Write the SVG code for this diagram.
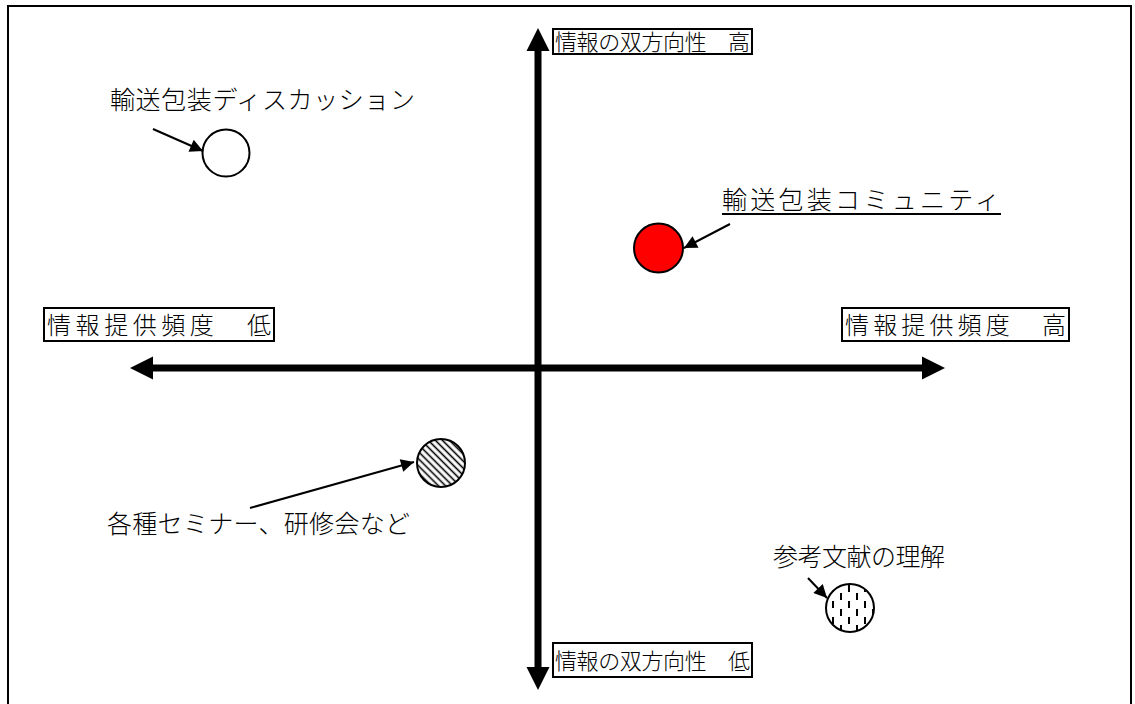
<svg xmlns="http://www.w3.org/2000/svg" width="1135" height="704" viewBox="0 0 1135 704">
<style>
text{font-family:"Noto Sans CJK JP","Noto Sans CJK SC",sans-serif;font-size:25px;font-weight:300;fill:#000}
.vt{font-size:22px}
.ht{font-size:24px}
.box{fill:#fff;stroke:#000;stroke-width:2}
.axis{stroke:#000;stroke-width:7;fill:none}
.ptr{stroke:#000;stroke-width:2;fill:none}
.node{stroke:#000;stroke-width:2}
</style>
<defs>
<marker id="big" viewBox="0 0 10 10" refX="0" refY="5" markerUnits="userSpaceOnUse" markerWidth="23" markerHeight="25" orient="auto"><path d="M0,0 L10,5 L0,10 Z" fill="#000"/></marker>
<marker id="small" viewBox="0 0 10 10" refX="10" refY="5" markerUnits="userSpaceOnUse" markerWidth="18" markerHeight="13" orient="auto"><path d="M0,0 L10,5 L0,10 Z" fill="#000"/></marker>
<pattern id="hatch" width="5" height="5" patternUnits="userSpaceOnUse" patternTransform="rotate(-45)"><line x1="1.5" y1="0" x2="1.5" y2="5" stroke="#000" stroke-width="1.6"/></pattern>
<pattern id="dash" width="16" height="16" patternUnits="userSpaceOnUse" x="829" y="584"><line x1="4" y1="1" x2="4" y2="8" stroke="#000" stroke-width="2"/><line x1="12" y1="9" x2="12" y2="16" stroke="#000" stroke-width="2"/></pattern>
</defs>
<rect x="8" y="6" width="1123" height="720" fill="#fff" stroke="#000" stroke-width="2"/>
<g id="connectors">
<line class="axis" x1="538" y1="368" x2="538" y2="51" marker-end="url(#big)"/>
<line class="axis" x1="538" y1="368" x2="538" y2="667" marker-end="url(#big)"/>
<line class="axis" x1="538" y1="368" x2="153" y2="368" marker-end="url(#big)"/>
<line class="axis" x1="538" y1="368" x2="922" y2="368" marker-end="url(#big)"/>
<line class="ptr" x1="153" y1="129" x2="203" y2="151" marker-end="url(#small)"/>
<line class="ptr" x1="730" y1="224" x2="684" y2="248" marker-end="url(#small)"/>
<line class="ptr" x1="250" y1="508" x2="414" y2="462" marker-end="url(#small)"/>
<line class="ptr" x1="808" y1="578" x2="827" y2="598" marker-end="url(#small)"/>
</g>
<g id="label-top"><rect class="box" x="553" y="29" width="199" height="25"/><text class="vt" x="555" y="50" textLength="195" lengthAdjust="spacing">情報の双方向性　高</text></g>
<g id="label-bottom"><rect class="box" x="553" y="643" width="199" height="34"/><text class="vt" x="555" y="669" textLength="195" lengthAdjust="spacing">情報の双方向性　低</text></g>
<g id="label-left"><rect class="box" x="44" y="308" width="230" height="33"/><text class="ht" x="47" y="334" textLength="224" lengthAdjust="spacing">情報提供頻度　低</text></g>
<g id="label-right"><rect class="box" x="842" y="308" width="227" height="33"/><text class="ht" x="845" y="334" textLength="221" lengthAdjust="spacing">情報提供頻度　高</text></g>
<g id="node-discussion"><circle class="node" cx="226" cy="153" r="23.5" fill="#fff"/><text x="110" y="109" textLength="305" lengthAdjust="spacing">輸送包装ディスカッション</text></g>
<g id="node-community"><circle class="node" cx="658.5" cy="248" r="24.5" fill="#f00"/><text x="722" y="209" textLength="278" lengthAdjust="spacing">輸送包装コミュニティ</text><line x1="722" y1="214" x2="1001" y2="214" stroke="#000" stroke-width="2"/></g>
<g id="node-seminar"><circle class="node" cx="441" cy="463" r="24" fill="url(#hatch)"/><text x="107" y="533" textLength="303" lengthAdjust="spacing">各種セミナー、研修会など</text></g>
<g id="node-reference"><circle class="node" cx="850" cy="608" r="24" fill="url(#dash)"/><text x="773" y="566" textLength="172" lengthAdjust="spacing">参考文献の理解</text></g>
</svg>
